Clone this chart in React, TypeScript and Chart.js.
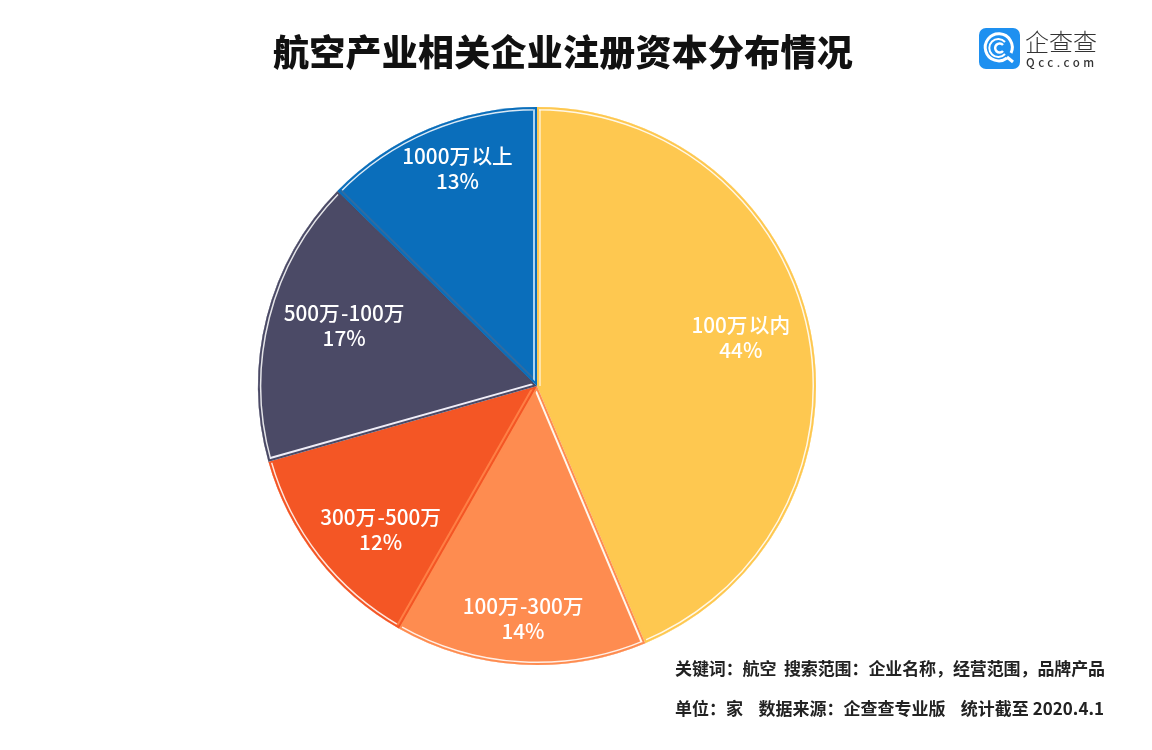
import { useEffect, useRef } from "react";
import { Chart, registerables } from "chart.js";

Chart.register(...registerables);

const categories = ["100万\u200a以内", "100万\u200a-300万", "300万\u200a-500万", "500万\u200a-100万", "1000万\u200a以上"];
const shareValues = [43.7, 14.6, 12.4, 16.7, 12.7];
const shareLabels = ["44%", "14%", "12%", "17%", "13%"];
const sliceColors = ["#FEC850", "#FE8C50", "#F45625", "#4B4A66", "#0A6EBB"];

const title = "航空产业相关企业注册资本分布情况";
const footerLines = [
  "关键词：航空  搜索范围：企业名称，经营范围，品牌产品",
  "单位：家    数据来源：企查查专业版    统计截至 2020.4.1",
];

// inner line along each slice's first and last straight edge (clockwise), null = none
const startEdgeTint = ["rgba(255,255,255,0.5)", "#FFF8EE", "#FF7F45", "#F0EEF8", "#2F6CA2"];
const endEdgeTint = [null, null, null, null, "#A9D4F2"];

// label offsets from the default spot in each slice (dx, dy)
const labelNudge = [
  [-9.5, -5],
  [-1, 15],
  [15, 10],
  [18, -7],
  [5, -17],
];

const FONT = '"Noto Sans CJK SC", "Noto Sans", sans-serif';

const sliceDecor = {
  id: "sliceDecor",
  afterDatasetsDraw(chart: Chart) {
    const ctx = chart.ctx;
    const arcs = chart.getDatasetMeta(0).data;
    arcs.forEach((arc: any, i: number) => {
      const { x, y, startAngle, endAngle, outerRadius } = arc.getProps(
        ["x", "y", "startAngle", "endAngle", "outerRadius"],
        true
      );
      const outline = () => {
        ctx.beginPath();
        ctx.moveTo(x, y);
        ctx.arc(x, y, outerRadius, startAngle, endAngle);
        ctx.closePath();
      };
      const edge = (angle: number, tint: string | null) => {
        if (!tint) return;
        ctx.beginPath();
        ctx.moveTo(x, y);
        ctx.lineTo(x + Math.cos(angle) * outerRadius, y + Math.sin(angle) * outerRadius);
        ctx.strokeStyle = tint;
        ctx.stroke();
      };
      ctx.save();
      outline();
      ctx.clip();
      ctx.lineWidth = 7;
      ctx.beginPath();
      ctx.arc(x, y, outerRadius, startAngle, endAngle);
      ctx.strokeStyle = "rgba(255,255,255,0.85)";
      ctx.stroke();
      ctx.lineWidth = 8;
      edge(startAngle, startEdgeTint[i]);
      edge(endAngle, endEdgeTint[i]);
      // the slice colour again on the very edge
      outline();
      ctx.strokeStyle = sliceColors[i];
      ctx.lineWidth = 4;
      ctx.stroke();
      ctx.restore();

      const mid = (startAngle + endAngle) / 2;
      const lx = x + Math.cos(mid) * outerRadius * 0.78 + labelNudge[i][0];
      const ly = y + Math.sin(mid) * outerRadius * 0.78 + labelNudge[i][1];
      ctx.save();
      ctx.fillStyle = "#fff";
      ctx.font = `500 20.7px ${FONT}`;
      ctx.textAlign = "center";
      ctx.textBaseline = "middle";
      ctx.fillText(categories[i], lx, ly - 12.5);
      ctx.fillText(shareLabels[i], lx, ly + 12.5);
      ctx.restore();
    });
  },
};

export default function App() {
  const canvasRef = useRef<HTMLCanvasElement>(null);

  useEffect(() => {
    if (!canvasRef.current) return;
    const chart = new Chart(canvasRef.current, {
      type: "pie",
      data: {
        labels: categories,
        datasets: [
          {
            data: shareValues,
            backgroundColor: sliceColors,
            borderWidth: 0,
          },
        ],
      },
      options: {
        responsive: false,
        animation: false,
        layout: { padding: { left: 258, right: 336, top: 107, bottom: 85 } },
        plugins: {
          legend: { display: false },
          tooltip: { enabled: false },
        },
      },
      plugins: [sliceDecor],
    });
    return () => chart.destroy();
  }, []);

  return (
    <div
      style={{
        position: "absolute",
        left: 0,
        top: 0,
        width: 1152,
        height: 750,
        background: "#fff",
        fontFamily: FONT,
        overflow: "hidden",
      }}
    >
      <canvas ref={canvasRef} width={1152} height={750} style={{ display: "block" }} />
      <div
        style={{
          position: "absolute",
          left: 273,
          top: 24,
          fontSize: 36,
          lineHeight: "52px",
          fontWeight: 900,
          color: "#111",
          whiteSpace: "pre",
          letterSpacing: 0.25,
        }}
      >
        {title}
      </div>
      <svg style={{ position: "absolute", left: 979, top: 28 }} width={41} height={41} viewBox="0 0 41 41">
        <rect width={41} height={41} rx={7} fill="#1E90F0" />
        <path d="M28 30a13.5 13.5 0 1 1 4-5" fill="none" stroke="#fff" strokeWidth={3} />
        <path d="M26 14a9 9 0 1 0 0 12" fill="none" stroke="#fff" strokeWidth={2} />
        <path d="M24 17a4.5 4.5 0 1 0 0 6" fill="none" stroke="#fff" strokeWidth={2.5} />
        <path d="M28 29l6 5" stroke="#fff" strokeWidth={3} />
      </svg>
      <div
        style={{
          position: "absolute",
          left: 1025,
          top: 24,
          fontSize: 24,
          lineHeight: "34px",
          fontWeight: 300,
          color: "#333",
          whiteSpace: "pre",
        }}
      >
        企查查
      </div>
      <div
        style={{
          position: "absolute",
          left: 1026,
          top: 54,
          fontSize: 11.5,
          lineHeight: "16px",
          fontWeight: 500,
          color: "#333",
          letterSpacing: 3.5,
          whiteSpace: "pre",
        }}
      >
        Qcc.com
      </div>
      {footerLines.map((line, i) => (
        <div
          key={i}
          style={{
            position: "absolute",
            left: 675,
            top: 656 + i * 40,
            fontSize: 17,
            lineHeight: "24px",
            fontWeight: 700,
            color: "#222",
            whiteSpace: "pre",
            letterSpacing: i === 0 ? -0.1 : 0,
          }}
        >
          {line}
        </div>
      ))}
    </div>
  );
}
